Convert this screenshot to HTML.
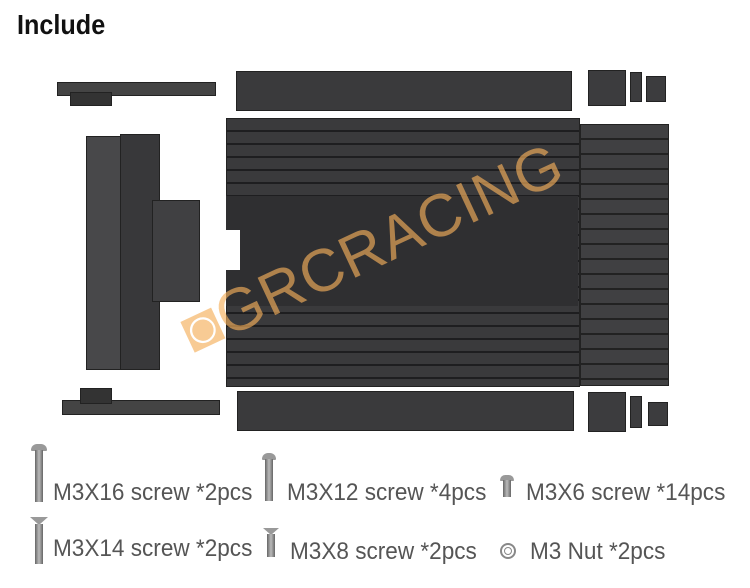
<!DOCTYPE html>
<html><head><meta charset="utf-8"><style>
body{margin:0;width:750px;height:588px;background:#fff;position:relative;overflow:hidden;font-family:"Liberation Sans",sans-serif}
.a{position:absolute}
.p{position:absolute;background:#3c3c3e;border:1px solid #222}
.t{position:absolute;font-size:24px;color:#555;white-space:nowrap;line-height:1;transform:scaleX(0.94);transform-origin:0 0}
.s{position:absolute;background:linear-gradient(90deg,#666,#bbb,#666);}
.h{position:absolute;background:#999;border-radius:6px 6px 1px 1px}
</style></head><body>
<div class="a" style="left:17px;top:9px;font-size:28px;color:#111;font-weight:bold;transform:scaleX(0.9);transform-origin:0 0">Include</div>

<div class="p" style="left:57px;top:82px;width:157px;height:12px;background:#444"></div>
<div class="p" style="left:70px;top:92px;width:40px;height:12px;background:#333"></div>
<div class="p" style="left:86px;top:136px;width:66px;height:232px;background:#48484a"></div>
<div class="p" style="left:120px;top:134px;width:38px;height:234px;background:#38383a"></div>
<div class="p" style="left:152px;top:200px;width:46px;height:100px;background:#404042"></div>
<div class="p" style="left:62px;top:400px;width:156px;height:13px;background:#444"></div>
<div class="p" style="left:80px;top:388px;width:30px;height:14px;background:#333"></div>

<div class="p" style="left:236px;top:71px;width:334px;height:38px;background:#3a3a3c"></div>
<div class="p" style="left:226px;top:118px;width:352px;height:267px;background:repeating-linear-gradient(180deg,#3a3a3c 0 11px,#1e1e20 11px 13px)"></div>
<div class="a" style="left:226px;top:196px;width:352px;height:110px;background:#2f2f31"></div>
<div class="a" style="left:226px;top:230px;width:14px;height:40px;background:#fff"></div>
<div class="p" style="left:237px;top:391px;width:335px;height:38px;background:#3a3a3c"></div>
<div class="p" style="left:580px;top:124px;width:87px;height:260px;background:repeating-linear-gradient(180deg,#404042 0 13px,#222 13px 15px)"></div>
<div class="p" style="left:588px;top:70px;width:36px;height:34px"></div>
<div class="p" style="left:630px;top:72px;width:10px;height:28px"></div>
<div class="p" style="left:646px;top:76px;width:18px;height:24px"></div>
<div class="p" style="left:588px;top:392px;width:36px;height:38px"></div>
<div class="p" style="left:630px;top:396px;width:10px;height:30px"></div>
<div class="p" style="left:648px;top:402px;width:18px;height:22px"></div>

<div class="a" style="left:185px;top:300px;font-size:60px;color:rgba(245,175,90,0.65);transform:rotate(-25deg);transform-origin:0 50%;white-space:nowrap;letter-spacing:1px">◙GRCRACING</div>

<div class="h" style="left:31px;top:444px;width:16px;height:7px"></div>
<div class="s" style="left:35px;top:450px;width:8px;height:52px"></div>
<div class="t" style="left:53px;top:481px">M3X16 screw *2pcs</div>
<div class="h" style="left:262px;top:453px;width:14px;height:7px"></div>
<div class="s" style="left:265px;top:459px;width:8px;height:42px"></div>
<div class="t" style="left:287px;top:481px">M3X12 screw *4pcs</div>
<div class="h" style="left:500px;top:475px;width:14px;height:6px"></div>
<div class="s" style="left:503px;top:480px;width:8px;height:17px"></div>
<div class="t" style="left:526px;top:481px">M3X6 screw *14pcs</div>
<div class="a" style="left:30px;top:517px;width:0;height:0;border-left:9px solid transparent;border-right:9px solid transparent;border-top:8px solid #999"></div>
<div class="s" style="left:35px;top:524px;width:8px;height:40px"></div>
<div class="t" style="left:53px;top:537px">M3X14 screw *2pcs</div>
<div class="a" style="left:263px;top:528px;width:0;height:0;border-left:8px solid transparent;border-right:8px solid transparent;border-top:7px solid #999"></div>
<div class="s" style="left:267px;top:534px;width:8px;height:23px"></div>
<div class="t" style="left:290px;top:540px">M3X8 screw *2pcs</div>
<div class="a" style="left:500px;top:543px;width:16px;height:16px;border-radius:50%;border:2px solid #888;box-sizing:border-box"></div>
<div class="a" style="left:504px;top:547px;width:8px;height:8px;border-radius:50%;border:1px solid #888;box-sizing:border-box"></div>
<div class="t" style="left:530px;top:540px">M3 Nut *2pcs</div>
</body></html>
